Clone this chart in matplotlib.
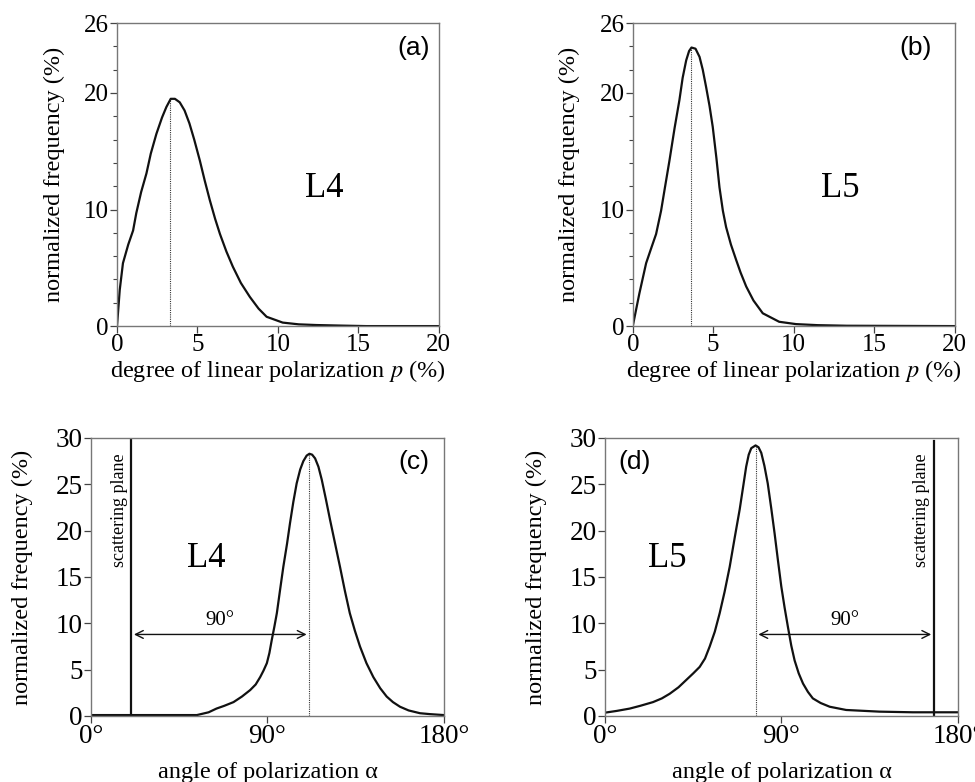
import numpy as np
import matplotlib
matplotlib.use("Agg")
import matplotlib.pyplot as plt
from matplotlib.ticker import MultipleLocator

plt.rcParams['font.family'] = ['Liberation Serif', 'DejaVu Serif']
plt.rcParams['mathtext.fontset'] = 'stix'

# (a) L4, degree of linear polarization
p_a = [0, 0.17, 0.37, 0.7, 1.0, 1.2, 1.5, 1.83, 2.1, 2.45, 2.8, 3.07, 3.34, 3.6, 3.9, 4.2, 4.5, 4.8, 5.15, 5.45, 5.77,
       6.1, 6.4, 6.8, 7.2, 7.7, 8.26, 8.8, 9.3, 10.3, 11.3, 12.4, 14.0, 15.5, 20]
f_a = [0, 3.1, 5.4, 7.0, 8.2, 9.7, 11.5, 13.1, 14.8, 16.5, 17.9, 18.8, 19.5, 19.5, 19.2, 18.5, 17.4, 16.0, 14.2, 12.5, 10.8,
       9.2, 7.9, 6.4, 5.1, 3.7, 2.5, 1.5, 0.8, 0.3, 0.15, 0.09, 0.04, 0.0, 0.0]
peak_a = 3.3

# (b) L5, degree of linear polarization
p_b = [0, 0.41, 0.83, 1.15, 1.45, 1.76, 2.0, 2.28, 2.6, 2.9, 3.1, 3.32, 3.5, 3.65, 3.9, 4.15, 4.35, 4.56, 4.77, 4.97,
       5.2, 5.39, 5.6, 5.8, 6.1, 6.42, 6.7, 7.05, 7.5, 8.08, 9.1, 10.15, 11.5, 13.3, 20]
f_b = [0, 2.8, 5.4, 6.7, 7.9, 9.9, 11.9, 14.2, 17.0, 19.4, 21.3, 22.8, 23.6, 23.9, 23.8, 23.1, 22.0, 20.5, 18.9, 17.1,
       14.4, 11.9, 9.9, 8.5, 7.0, 5.7, 4.6, 3.4, 2.2, 1.1, 0.37, 0.17, 0.08, 0.03, 0.0]
peak_b = 3.6

# (c) L4, angle of polarization
ang_c = [0, 20, 40, 54, 60, 64, 68, 72.7, 77, 81.2, 84, 86.3, 88, 89.7, 91, 92.2, 93.5, 94.8, 96.5, 98.1, 100, 101.5,
         103.2, 104.9, 106.7, 108.3, 110, 111.4, 112.8, 114.3, 116, 117.7, 119.8, 121.9, 124.5, 127, 129.5, 132,
         134.6, 137.2, 140.5, 144, 147.5, 150.8, 154, 157.6, 162, 167.8, 173, 180]
frq_c = [0.1, 0.1, 0.1, 0.1, 0.4, 0.8, 1.1, 1.5, 2.1, 2.8, 3.4, 4.2, 4.9, 5.7, 6.8, 8.2, 9.6, 11.1, 13.7, 16.1, 18.6, 20.8,
         23.1, 25.1, 26.6, 27.5, 28.1, 28.3, 28.2, 27.8, 26.9, 25.5, 23.4, 21.2, 18.6, 16.1, 13.5, 11.1, 9.2, 7.5, 5.7,
         4.2, 3.0, 2.1, 1.5, 1.0, 0.6, 0.3, 0.2, 0.1]
plane_c = 20.5
peak_c = 111.4

# (d) L5, angle of polarization
ang_d = [0, 6, 12.6, 18, 24.5, 29, 33, 37.5, 41.5, 45, 48.3, 51, 53.4, 56, 58.5, 61, 63.6, 66.2, 68.7, 70.5, 72, 73.3,
         74.6, 76.8, 78.3, 79.7, 81.3, 83, 84.8, 86.5, 88.2, 89.9, 91.6, 93.3, 95, 96.7, 98.8, 101, 103.5, 106, 110,
         114.6, 123, 140, 157, 180]
frq_d = [0.36, 0.55, 0.8, 1.1, 1.5, 1.9, 2.4, 3.1, 3.9, 4.6, 5.3, 6.2, 7.5, 9.1, 11.1, 13.4, 16.1, 19.3, 22.3, 24.8,
         26.9, 28.2, 28.9, 29.2, 29.0, 28.4, 27.0, 25.1, 22.4, 19.7, 16.8, 14.0, 11.7, 9.6, 7.6, 6.0, 4.6, 3.5, 2.6,
         1.9, 1.4, 1.0, 0.65, 0.47, 0.4, 0.4]
plane_d = 167.8
peak_d = 76.8

deg_ticks = [0, 90, 180]
deg_labels = ['0°', '90°', '180°']

fig = plt.figure(figsize=(9.75, 7.82), dpi=100)
ax_a = fig.add_axes([0.120, 0.583, 0.330, 0.3875])
ax_b = fig.add_axes([0.649, 0.583, 0.330, 0.3875])
ax_c = fig.add_axes([0.0933, 0.0844, 0.362, 0.3555])
ax_d = fig.add_axes([0.6205, 0.0844, 0.362, 0.3555])

spine_col = '#777777'


def style(ax, tick_size):
    for s in ax.spines.values():
        s.set_color(spine_col)
        s.set_linewidth(1.0)
    ax.tick_params(direction='out', length=5, width=0.9, color='#444444', labelsize=tick_size, pad=1)
    ax.tick_params(which='minor', direction='out', length=3, width=0.8, color='#444444')
    ax.set_ylabel('normalized frequency (%)', fontsize=17.5)
    ax.yaxis.set_label_coords(-0.163, 0.5)


# top panels
for ax, p, f, pk, tag, tx, name in [(ax_a, p_a, f_a, peak_a, '(a)', 18.45, 'L4'),
                                    (ax_b, p_b, f_b, peak_b, '(b)', 17.6, 'L5')]:
    ax.plot(p, f, color='#111111', lw=1.6)
    ax.plot([pk, pk], [0, max(f)], color='#333333', lw=0.8, ls=(0, (1, 1)))
    ax.set_xlim(0, 20)
    ax.set_ylim(0, 26)
    ax.set_xticks([0, 5, 10, 15, 20])
    ax.set_yticks([0, 10, 20, 26])
    ax.yaxis.set_minor_locator(MultipleLocator(2))
    style(ax, 18)
    ax.set_xlabel('degree of linear polarization $p$ (%)', fontsize=17.5)
    ax.xaxis.set_label_coords(0.5, -0.105)
    ax.text(tx, 23.9, tag, family='Liberation Sans', fontsize=19, ha='center', va='center')
    ax.text(12.9, 11.8, name, fontsize=25, ha='center', va='center')

# bottom panels
for ax, a, f, plane, pk, tag, tx, name, lx in [(ax_c, ang_c, frq_c, plane_c, peak_c, '(c)', 164.7, 'L4', 59),
                                               (ax_d, ang_d, frq_d, plane_d, peak_d, '(d)', 15.3, 'L5', 32)]:
    ax.plot(a, f, color='#111111', lw=1.6)
    ax.plot([pk, pk], [0, max(f)], color='#333333', lw=0.8, ls=(0, (1, 1)))
    ax.axvline(plane, ymin=0, ymax=1 if ax is ax_c else 0.99, color='#111111', lw=1.6)
    ax.annotate('', xy=(pk, 8.8), xytext=(plane, 8.8),
                arrowprops=dict(arrowstyle='<->', color='#111111', lw=1.0, mutation_scale=14))
    ax.text((pk + plane) / 2, 10.3, '90°', fontsize=15, ha='center', va='center')
    ax.set_xlim(0, 180)
    ax.set_ylim(0, 30)
    ax.set_xticks(deg_ticks)
    ax.set_xticklabels(deg_labels)
    ax.set_yticks([0, 5, 10, 15, 20, 25, 30])
    style(ax, 19.5)
    ax.set_xlabel('angle of polarization α', fontsize=17.5)
    ax.xaxis.set_label_coords(0.5, -0.165)
    ax.text(tx, 27.4, tag, family='Liberation Sans', fontsize=19, ha='center', va='center')
    ax.text(lx, 17, name, fontsize=25, ha='center', va='center')

ax_c.text(14.4, 28.3, 'scattering plane', rotation=90, fontsize=13, ha='center', va='top')
ax_d.text(161.2, 28.3, 'scattering plane', rotation=90, fontsize=13, ha='center', va='top')

fig.savefig('out.png', dpi=100)
